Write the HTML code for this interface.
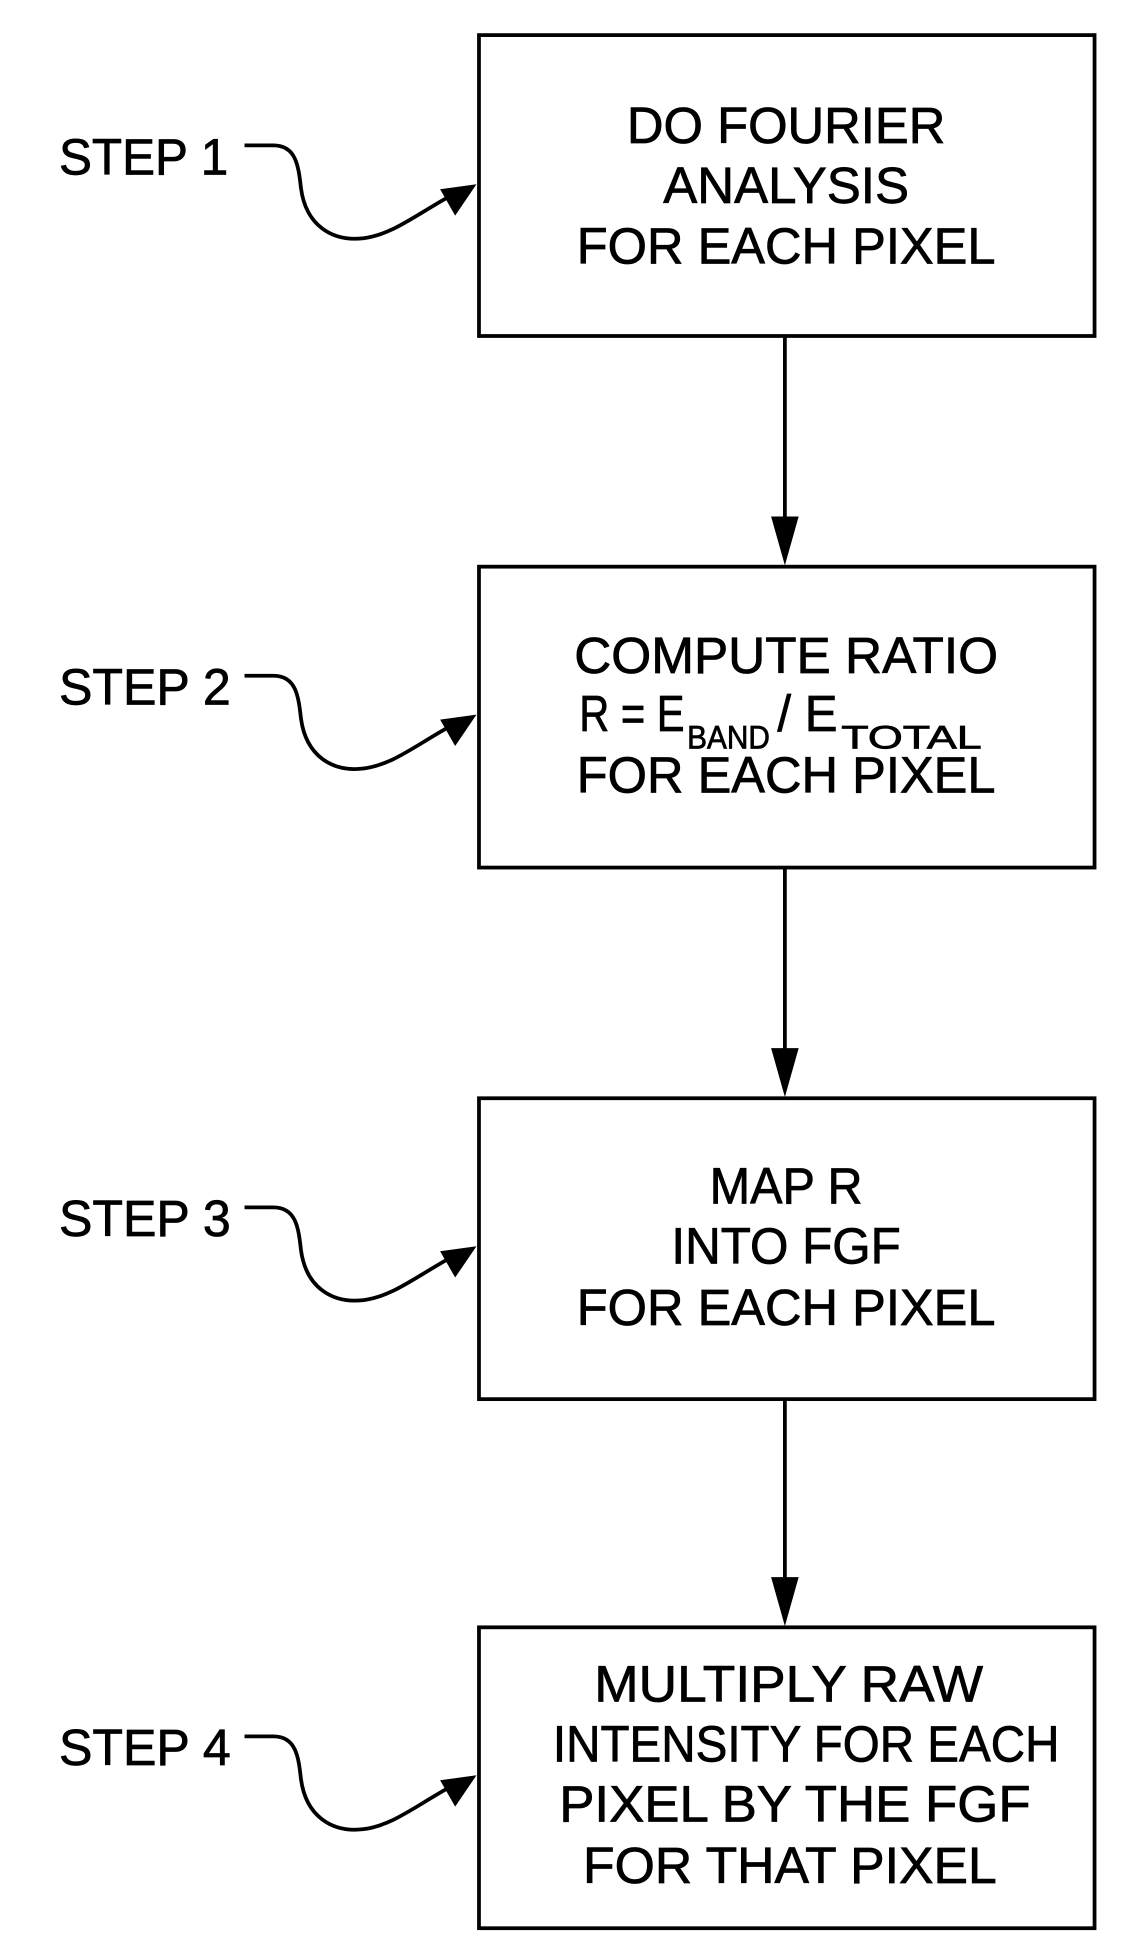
<!DOCTYPE html>
<html><head><meta charset="utf-8"><style>
html,body{margin:0;padding:0;background:#fff;}
svg{display:block;}
text{font-family:"Liberation Sans",Arial,sans-serif;font-size:41px;fill:#000;stroke:#000;stroke-width:0.6px;}
</style></head><body>
<svg width="1141" height="1942" viewBox="0 0 910 1549" xmlns="http://www.w3.org/2000/svg">
<defs>
<g id="cv">
<path d="M195,116 L218,116 C236,116 238,132 240,150 C244,180 265,193 290,190 C312,187 328,174 356,158" fill="none" stroke="#000" stroke-width="3"/>
<polygon points="380,147 351,151 363,172" fill="#000"/>
</g>
</defs>
<g fill="none" stroke="#000" stroke-width="3">
<rect x="382" y="28" width="491" height="240"/>
<rect x="382" y="452" width="491" height="240"/>
<rect x="382" y="876" width="491" height="240"/>
<rect x="382" y="1298" width="491" height="240"/>
<line x1="626" y1="268" x2="626" y2="420"/>
<line x1="626" y1="692" x2="626" y2="844"/>
<line x1="626" y1="1116" x2="626" y2="1266"/>
</g>
<polygon points="615,412 637,412 626,451" fill="#000"/>
<polygon points="615,836 637,836 626,875" fill="#000"/>
<polygon points="615,1258 637,1258 626,1297" fill="#000"/>
<use href="#cv"/>
<use href="#cv" transform="translate(0,423)"/>
<use href="#cv" transform="translate(0,847)"/>
<use href="#cv" transform="translate(0,1269)"/>
<text x="47" y="139" textLength="135" lengthAdjust="spacingAndGlyphs">STEP 1</text>
<text x="47" y="562" textLength="137" lengthAdjust="spacingAndGlyphs">STEP 2</text>
<text x="47" y="986" textLength="137" lengthAdjust="spacingAndGlyphs">STEP 3</text>
<text x="47" y="1408" textLength="137" lengthAdjust="spacingAndGlyphs">STEP 4</text>
<g text-anchor="middle">
<text x="627" y="114" textLength="254" lengthAdjust="spacingAndGlyphs">DO FOURIER</text>
<text x="627" y="162" textLength="196" lengthAdjust="spacingAndGlyphs">ANALYSIS</text>
<text x="627" y="210" textLength="334" lengthAdjust="spacingAndGlyphs">FOR EACH PIXEL</text>
<text x="627" y="537" textLength="338" lengthAdjust="spacingAndGlyphs">COMPUTE RATIO</text>
<text x="627" y="632" textLength="334" lengthAdjust="spacingAndGlyphs">FOR EACH PIXEL</text>
<text x="627" y="960" textLength="122" lengthAdjust="spacingAndGlyphs">MAP R</text>
<text x="627" y="1008" textLength="183" lengthAdjust="spacingAndGlyphs">INTO FGF</text>
<text x="627" y="1057" textLength="334" lengthAdjust="spacingAndGlyphs">FOR EACH PIXEL</text>
<text x="629" y="1357" textLength="310" lengthAdjust="spacingAndGlyphs">MULTIPLY RAW</text>
<text x="643" y="1405" textLength="404" lengthAdjust="spacingAndGlyphs">INTENSITY FOR EACH</text>
<text x="634" y="1453" textLength="376" lengthAdjust="spacingAndGlyphs">PIXEL BY THE FGF</text>
<text x="630" y="1502" textLength="330" lengthAdjust="spacingAndGlyphs">FOR THAT PIXEL</text>
</g>
<text x="462" y="583" textLength="84" lengthAdjust="spacingAndGlyphs">R = E</text>
<text x="548" y="597" style="font-size:26px" textLength="66" lengthAdjust="spacingAndGlyphs">BAND</text>
<text x="620" y="583" textLength="48" lengthAdjust="spacingAndGlyphs">/ E</text>
<text x="671" y="597" style="font-size:26px" textLength="112" lengthAdjust="spacingAndGlyphs">TOTAL</text>
</svg>
</body></html>
